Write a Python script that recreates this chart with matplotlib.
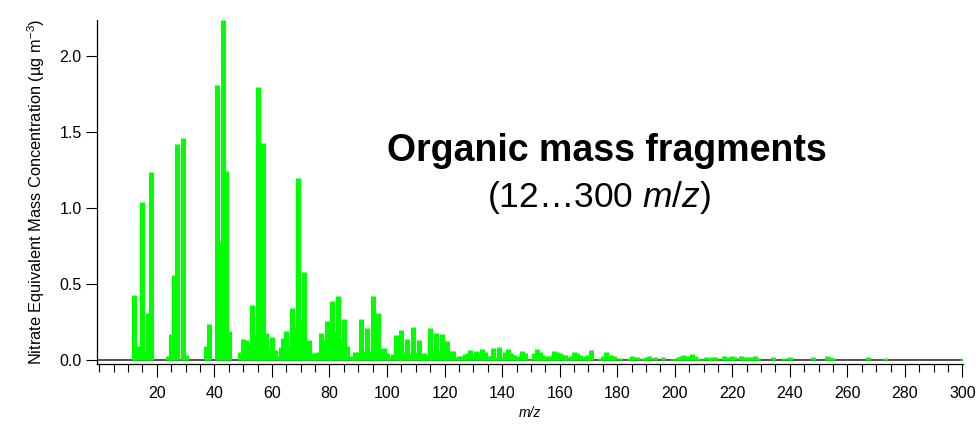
import matplotlib
matplotlib.use("Agg")
import matplotlib.pyplot as plt
from matplotlib.ticker import MultipleLocator

plt.rcParams['font.family'] = ['Liberation Sans', 'DejaVu Sans']
plt.rcParams['mathtext.fontset'] = 'custom'
plt.rcParams['mathtext.rm'] = 'Liberation Sans'
plt.rcParams['mathtext.it'] = 'Liberation Sans:italic'
plt.rcParams['mathtext.bf'] = 'Liberation Sans:bold'

# m/z values with non-zero signal and their nitrate-equivalent concentrations (µg m-3)
mz = [12, 13, 15, 16, 17, 18, 24, 25, 26, 27, 29, 30, 37, 38,
      41, 42, 43, 44, 45, 49, 50, 51, 52, 53, 54, 55, 56, 57, 58, 59, 60,
      61, 62, 63, 64, 65, 66, 67, 68, 69, 70, 71, 72, 73, 74, 75, 76, 77, 78, 79, 80,
      81, 82, 83, 84, 85, 86, 87, 88, 89, 90, 91, 92, 93, 94, 95, 96, 97, 98, 99, 100,
      101, 102, 103, 104, 105, 106, 107, 108, 109, 110, 111, 112, 113, 114, 115, 116, 117, 118, 119, 120,
      121, 122, 123, 124, 125, 126, 127, 128, 129, 130, 131, 132, 133, 134, 135, 136, 137, 138, 139, 140,
      141, 142, 143, 144, 145, 146, 147, 148, 149, 150, 151, 152, 153, 154, 155, 156, 157, 158, 159, 160,
      161, 162, 163, 164, 165, 166, 167, 168, 169, 170, 171, 174, 175, 176, 177, 178, 179,
      181, 184, 185, 187, 189, 190, 191, 193, 196, 199, 200,
      201, 202, 203, 204, 205, 206, 207, 208, 209, 211, 212, 213, 214, 215, 217, 218, 220,
      221, 223, 224, 225, 226, 227, 228, 229, 234, 238, 240, 248, 253, 254, 255, 267, 273, 300]
conc = [0.43, 0.095, 1.04, 0.055, 0.31, 1.24, 0.025, 0.17, 0.56, 1.42, 1.46, 0.035, 0.095, 0.235,
        1.81, 0.78, 2.24, 1.245, 0.19, 0.055, 0.14, 0.13, 0.105, 0.36, 0.17, 1.80, 0.515, 1.43, 0.18, 0.08, 0.15,
        0.066, 0.026, 0.086, 0.145, 0.19, 0.09, 0.345, 0.22, 1.20, 0.27, 0.58, 0.085, 0.135, 0.045, 0.045, 0.05, 0.18, 0.14, 0.26, 0.05,
        0.39, 0.19, 0.42, 0.145, 0.27, 0.095, 0.025, 0.005, 0.05, 0.05, 0.27, 0.06, 0.21, 0.06, 0.42, 0.06, 0.31, 0.075, 0.08, 0.045,
        0.02, 0.04, 0.165, 0.09, 0.20, 0.055, 0.14, 0.04, 0.22, 0.055, 0.13, 0.04, 0.045, 0.025, 0.21, 0.05, 0.18, 0.065, 0.17, 0.03,
        0.128, 0.058, 0.058, 0.022, 0.03, 0.03, 0.04, 0.045, 0.068, 0.02, 0.06, 0.055, 0.07, 0.05, 0.03, 0.03, 0.077, 0.02, 0.088, 0.02,
        0.055, 0.07, 0.045, 0.035, 0.03, 0.005, 0.058, 0.045, 0.01, 0.005, 0.045, 0.072, 0.05, 0.035, 0.025, 0.03, 0.03, 0.06, 0.05, 0.045,
        0.035, 0.035, 0.02, 0.025, 0.05, 0.045, 0.035, 0.02, 0.03, 0.035, 0.066, 0.015, 0.025, 0.05, 0.025, 0.035, 0.025,
        0.015, 0.012, 0.028, 0.018, 0.015, 0.02, 0.028, 0.02, 0.02, 0.01, 0.01,
        0.018, 0.027, 0.035, 0.027, 0.027, 0.037, 0.028, 0.015, 0.01, 0.02, 0.015, 0.017, 0.02, 0.01, 0.028, 0.018, 0.028,
        0.017, 0.028, 0.02, 0.02, 0.017, 0.015, 0.028, 0.015, 0.017, 0.012, 0.02, 0.017, 0.028, 0.017, 0.015, 0.022, 0.015, 0.008]

title_line1 = "Organic mass fragments"
title_line2 = r"(12…300 $\mathit{m/z}$)"
xlabel = "m/z"
ylabel = r"Nitrate Equivalent Mass Concentration (µg m$^{\mathregular{-3}}$)"

fig = plt.figure(figsize=(9.78, 4.24), dpi=100)
ax = fig.add_axes([0.0992, 0.1415, 0.8858, 0.8113])

ax.axhline(0, color='#444444', lw=1.3, zorder=1)
ax.vlines(mz, 0, conc, colors='#00ff00', lw=3.6, capstyle='butt', zorder=2)

ax.set_xlim(-0.8, 300.3)
ax.set_ylim(-0.026, 2.24)

for s in ['top', 'right']:
    ax.spines[s].set_visible(False)
for s in ['left', 'bottom']:
    ax.spines[s].set_linewidth(0.9)
    ax.spines[s].set_color('black')

ax.xaxis.set_minor_locator(MultipleLocator(5))
ax.set_xticks(list(range(20, 301, 20)))
ax.set_yticks([0.0, 0.5, 1.0, 1.5, 2.0])
ax.set_yticklabels(["0.0", "0.5", "1.0", "1.5", "2.0"])
ax.tick_params(axis='x', which='major', length=9.5, width=0.8, direction='out', labelsize=11.5, pad=6)
ax.tick_params(axis='x', which='minor', length=5.5, width=0.8, direction='out')
ax.tick_params(axis='y', which='major', length=8, width=0.8, direction='out', labelsize=11.5, pad=3)

ax.set_xlabel(xlabel, fontsize=10, style='italic', labelpad=4)
ax.set_ylabel(ylabel, fontsize=11.8, labelpad=9)

fig.text(0.621, 0.643, title_line1, fontsize=27, fontweight='bold', ha='center', va='center')
fig.text(0.612, 0.535, title_line2, fontsize=25.5, ha='center', va='center')

fig.savefig("out.png", dpi=100)
